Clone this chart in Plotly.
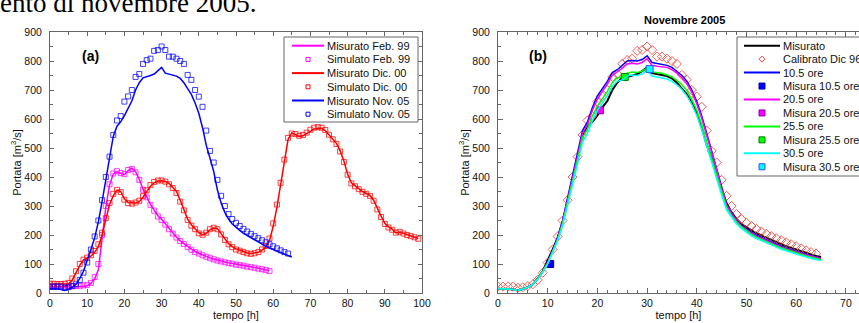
import plotly.graph_objects as go

# ---------------- data ----------------
feb99_meas = [20, 20, 20, 20, 20, 20, 21, 22, 22, 23, 25, 33, 48, 80, 195, 295, 372, 410, 418, 412,
              408, 422, 430, 418, 392, 358, 332, 306, 286, 266, 254, 238, 222, 206, 192, 180, 170, 160, 150, 143,
              137, 131, 126, 121, 117, 113, 110, 107, 104, 102, 99, 97, 95, 92, 90, 88, 85, 83, 80, 77]
feb99_sim = [22, 22, 22, 22, 22, 22, 23, 24, 25, 26, 28, 35, 55, 100, 200, 300, 375, 412, 420, 414,
             410, 424, 428, 416, 390, 356, 330, 304, 284, 264, 252, 236, 220, 205, 191, 179, 169, 159, 149, 141,
             136, 130, 125, 120, 116, 112, 109, 106, 103, 101, 98, 96, 94, 91, 89, 87, 84, 82, 79, 76]
dic00_meas = [30, 30, 30, 30, 30, 32, 45, 70, 95, 114, 120, 127, 140, 160, 200, 250, 305, 335, 355, 350,
              325, 312, 310, 310, 315, 330, 350, 368, 380, 386, 387, 385, 378, 365, 350, 320, 290, 255, 235, 222,
              208, 200, 206, 218, 224, 222, 205, 185, 170, 160, 152, 148, 142, 138, 136, 137, 140, 148, 158, 180,
              230, 295, 370, 455, 530, 552, 545, 540, 542, 551, 560, 566, 568, 568, 560, 545, 530, 516, 490, 455,
              410, 380, 370, 360, 350, 344, 337, 320, 290, 265, 240, 228, 220, 207, 210, 206, 200, 197, 193, 188]
dic00_sim = [32, 32, 31, 31, 32, 35, 50, 75, 100, 115, 122, 130, 145, 168, 208, 258, 310, 342, 356, 348,
             322, 310, 308, 312, 318, 334, 354, 372, 383, 388, 388, 384, 375, 362, 345, 315, 285, 252, 232, 220,
             206, 201, 208, 220, 225, 220, 202, 183, 168, 158, 150, 146, 141, 137, 135, 137, 141, 150, 162, 188,
             240, 305, 380, 460, 535, 550, 548, 542, 545, 553, 563, 570, 572, 570, 562, 546, 530, 514, 488, 452,
             408, 378, 368, 358, 349, 342, 335, 318, 288, 262, 238, 226, 218, 208, 211, 205, 200, 196, 192, 187]
nov05_meas = [15, 15, 14, 12, 9, 14, 20, 30, 50, 75, 110, 150, 190, 245, 315, 395, 460, 540, 575, 590,
              612, 640, 662, 700, 725, 742, 745, 750, 755, 765, 778, 758, 755, 752, 748, 740, 725, 705, 685, 655,
              620, 570, 510, 465, 420, 355, 310, 278, 255, 238, 226, 216, 206, 198, 191, 183, 175, 168, 161, 155,
              150, 144, 138, 133, 128, 124]
nov05_sim = [22, 22, 23, 22, 18, 20, 24, 30, 45, 70, 105, 150, 195, 250, 320, 400, 470, 545, 595, 610,
             660, 678, 700, 745, 755, 790, 803, 808, 835, 838, 850, 838, 815, 815, 808, 800, 790, 752, 735, 700,
             677, 642, 560, 490, 450, 390, 335, 300, 272, 255, 242, 231, 221, 212, 204, 196, 189, 182, 175, 168,
             161, 154, 147, 141, 136]
fc_10_5 = [15, 15, 14, 12, 9, 14, 20, 30, 50, 75, 105, 148, 192, 250, 325, 410, 480, 560, 590, 640,
           680, 705, 730, 760, 770, 785, 800, 802, 800, 805, 818, 795, 792, 788, 785, 778, 765, 750, 730, 700,
           660, 610, 550, 490, 430, 365, 305, 275, 250, 233, 220, 209, 199, 191, 183, 175, 168, 161, 154, 148,
           143, 138, 133, 128, 123, 120]
fc_20_5 = [15, 15, 14, 12, 9, 14, 20, 30, 50, 75, 105, 145, 188, 245, 318, 400, 470, 550, 580, 630,
           668, 695, 720, 750, 762, 775, 790, 792, 790, 795, 808, 785, 782, 780, 778, 770, 758, 742, 722, 692,
           652, 602, 545, 485, 425, 360, 303, 273, 249, 231, 218, 206, 196, 188, 180, 172, 165, 158, 152, 146,
           141, 136, 131, 126, 121, 118]
fc_25_5 = [15, 15, 14, 12, 9, 14, 20, 30, 50, 75, 103, 143, 185, 240, 310, 390, 458, 535, 565, 610,
           645, 670, 695, 725, 742, 745, 758, 762, 760, 765, 776, 762, 760, 758, 752, 745, 733, 718, 698, 668,
           630, 580, 520, 462, 405, 345, 293, 266, 244, 227, 213, 202, 192, 184, 176, 169, 162, 155, 149, 143,
           138, 133, 128, 123, 118, 115]
fc_30_5 = [15, 15, 14, 12, 9, 14, 20, 30, 48, 72, 100, 140, 180, 232, 300, 378, 445, 520, 550, 595,
           630, 655, 680, 712, 730, 735, 748, 752, 750, 755, 768, 748, 745, 742, 738, 730, 718, 702, 680, 650,
           612, 562, 505, 450, 395, 338, 286, 260, 238, 222, 208, 197, 188, 180, 172, 165, 158, 151, 145, 139,
           134, 129, 124, 119, 115, 112]
misura_t = [10.5, 20.5, 25.5, 30.5]
misura_v = [100, 630, 745, 772]

x_ticks_a = [0, 10, 20, 30, 40, 50, 60, 70, 80, 90, 100]
x_ticks_b = [0, 10, 20, 30, 40, 50, 60, 70]
y_ticks = [0, 100, 200, 300, 400, 500, 600, 700, 800, 900]

names_a = ["Misurato Feb. 99", "Simulato Feb. 99", "Misurato Dic. 00",
           "Simulato Dic. 00", "Misurato Nov. 05", "Simulato Nov. 05"]
names_b = ["Misurato", "Calibrato Dic 96", "10.5 ore", "Misura 10.5 ore", "20.5 ore",
           "Misura 20.5 ore", "25.5 ore", "Misura 25.5 ore", "30.5 ore", "Misura 30.5 ore"]


def hours(arr):
    return list(range(len(arr)))


# ---------------- geometry ----------------
W, H = 859, 323
ML, MT, MB, MR = 50, 32, 30, 0
PW, PH = W - ML - MR, H - MT - MB
def PX(x): return (x - ML) / PW
def PY(y): return (H - MB - y) / PH

FONT = "Arial, Liberation Sans, sans-serif"
MAG, RED, BLUE = "#FF00FF", "#FF0000", "#0000FF"

fig = go.Figure()

# ---------------- panel (a) ----------------
series_a = [(feb99_meas, feb99_sim, MAG), (dic00_meas, dic00_sim, RED), (nov05_meas, nov05_sim, BLUE)]
k = 0
for meas, sim, col in series_a:
    fig.add_trace(go.Scatter(x=hours(meas), y=meas, mode="lines", name=names_a[k],
                             line=dict(color=col, width=1.5), xaxis="x", yaxis="y", showlegend=False))
    fig.add_trace(go.Scatter(x=hours(sim), y=sim, mode="markers", name=names_a[k + 1],
                             marker=dict(symbol="square-open", size=5, color=col, opacity=0.75,
                                         line=dict(width=1, color=col)),
                             xaxis="x", yaxis="y", showlegend=False))
    k += 2

# ---------------- panel (b) ----------------
fig.add_trace(go.Scatter(x=hours(nov05_meas), y=nov05_meas, mode="lines", name=names_b[0],
                         line=dict(color="black", width=2), xaxis="x2", yaxis="y2", showlegend=False))
fig.add_trace(go.Scatter(x=hours(nov05_sim), y=nov05_sim, mode="markers", name=names_b[1],
                         marker=dict(symbol="diamond-open", size=7, color="#E8453C", opacity=0.85,
                                     line=dict(width=1, color="#E8453C")),
                         xaxis="x2", yaxis="y2", showlegend=False))
fc_list = [fc_10_5, fc_20_5, fc_25_5, fc_30_5]
fc_cols = [BLUE, MAG, "#00FF00", "#00FFFF"]
mk_edges = ["#0000A0", "#8000C0", "#008000", "#3050FF"]
for i, fc in enumerate(fc_list):
    fig.add_trace(go.Scatter(x=hours(fc), y=fc, mode="lines", name=names_b[2 + 2 * i],
                             line=dict(color=fc_cols[i], width=1.5), xaxis="x2", yaxis="y2", showlegend=False))
    fig.add_trace(go.Scatter(x=[misura_t[i]], y=[misura_v[i]], mode="markers", name=names_b[3 + 2 * i],
                             marker=dict(symbol="square", size=7, color=fc_cols[i],
                                         line=dict(width=1, color=mk_edges[i])),
                             xaxis="x2", yaxis="y2", showlegend=False))

# ---------------- axes ----------------
tickfont = dict(family=FONT, size=10.5, color="#111")
titlefont = dict(family=FONT, size=11, color="#111")
axis_common = dict(showgrid=False, zeroline=False, showline=True, linecolor="#666", linewidth=1,
                   ticks="inside", tickcolor="#666", tickfont=tickfont, automargin=False)

fig.update_layout(
    xaxis=dict(axis_common, domain=[0, PX(422)], range=[0, 100], tickvals=x_ticks_a, ticklen=4,
               mirror="allticks", minor=dict(tickmode="linear", tick0=0, dtick=5, ticks="inside", ticklen=3,
                                             tickcolor="#666"),
               title=dict(text="tempo [h]", font=titlefont, standoff=3)),
    yaxis=dict(axis_common, domain=[0, 1], range=[0, 900], tickvals=y_ticks, ticklen=4,
               mirror="allticks", ticklabelstandoff=5,
               minor=dict(tickmode="linear", tick0=0, dtick=50, ticks="inside", ticklen=3, tickcolor="#666"),
               title=dict(text="Portata [m<sup>3</sup>/s]", font=titlefont, standoff=0)),
    xaxis2=dict(axis_common, domain=[PX(498), 1], range=[0, (W - 498) / 4.97], tickvals=x_ticks_b, ticklen=5,
                mirror="allticks", anchor="y2",
                minor=dict(tickmode="linear", tick0=0, dtick=2, ticks="inside", ticklen=3, tickcolor="#666"),
                title=dict(text="tempo [h]", font=titlefont, standoff=3)),
    yaxis2=dict(axis_common, domain=[0, 1], range=[0, 900], tickvals=y_ticks, ticklen=5, anchor="x2",
                mirror=False, ticklabelstandoff=5,
                minor=dict(tickmode="linear", tick0=0, dtick=50, ticks="inside", ticklen=3, tickcolor="#666"),
                title=dict(text="Portata [m<sup>3</sup>/s]", font=titlefont, standoff=0)),
)

# ---------------- annotations ----------------
ann = []
ann.append(dict(text="ento di novembre 2005.", x=PX(258), y=PY(20), xref="paper", yref="paper",
                xanchor="right", yanchor="bottom", showarrow=False,
                font=dict(family="Liberation Serif, Times New Roman, serif", size=27, color="black")))
ann.append(dict(text="<b>(a)</b>", x=PX(90), y=PY(55.5), xref="paper", yref="paper", showarrow=False,
                xanchor="center", yanchor="middle", font=dict(family=FONT, size=14, color="black")))
ann.append(dict(text="<b>(b)</b>", x=PX(538), y=PY(55.5), xref="paper", yref="paper", showarrow=False,
                xanchor="center", yanchor="middle", font=dict(family=FONT, size=14, color="black")))
ann.append(dict(text="<b>Novembre 2005</b>", x=PX(684), y=PY(19.5), xref="paper", yref="paper",
                xanchor="center", yanchor="middle", showarrow=False,
                font=dict(family=FONT, size=11, color="black")))

shapes = []
legfont = dict(family=FONT, size=11, color="#111")


def legend_block(names, styles, box, y0, dy, lx0, lx1, mx, tx):
    shapes.append(dict(type="rect", xref="paper", yref="paper", x0=PX(box[0]), x1=PX(box[1]),
                       y0=PY(box[2]), y1=PY(box[3]), line=dict(color="#666", width=1),
                       fillcolor="white", layer="above"))
    for i, (nm, st) in enumerate(zip(names, styles)):
        yc = y0 + i * dy
        kind, col, edge, sz = st
        if kind == "line":
            shapes.append(dict(type="line", xref="paper", yref="paper", x0=PX(lx0), x1=PX(lx1),
                               y0=PY(yc), y1=PY(yc), line=dict(color=col, width=2), layer="above"))
        elif kind == "osq":
            shapes.append(dict(type="rect", xref="paper", yref="paper", x0=PX(mx - sz), x1=PX(mx + sz),
                               y0=PY(yc - sz), y1=PY(yc + sz), line=dict(color=col, width=1), layer="above"))
        elif kind == "fsq":
            shapes.append(dict(type="rect", xref="paper", yref="paper", x0=PX(mx - sz), x1=PX(mx + sz),
                               y0=PY(yc - sz), y1=PY(yc + sz), fillcolor=col,
                               line=dict(color=edge, width=1), layer="above"))
        elif kind == "dia":
            path = "M {} {} L {} {} L {} {} L {} {} Z".format(PX(mx), PY(yc - sz), PX(mx + sz), PY(yc),
                                                            PX(mx), PY(yc + sz), PX(mx - sz), PY(yc))
            shapes.append(dict(type="path", xref="paper", yref="paper", path=path,
                               line=dict(color=col, width=1), layer="above"))
        ann.append(dict(text=nm, x=PX(tx), y=PY(yc), xref="paper", yref="paper", xanchor="left",
                        yanchor="middle", showarrow=False, font=legfont, borderpad=0))


styles_a = [("line", MAG, None, 0), ("osq", MAG, None, 2), ("line", RED, None, 0),
            ("osq", RED, None, 2), ("line", BLUE, None, 0), ("osq", BLUE, None, 2)]
legend_block(names_a, styles_a, (284, 418, 37, 122), 45.7, 13.7, 292, 324, 308, 326)

styles_b = [("line", "black", None, 0), ("dia", "#E8453C", None, 3)]
for i in range(4):
    styles_b.append(("line", fc_cols[i], None, 0))
    styles_b.append(("fsq", fc_cols[i], mk_edges[i], 3))
legend_block(names_b, styles_b, (737, 905, 37, 176), 45.7, 13.45, 744, 780, 762, 781.5)

fig.update_layout(
    width=W, height=H, margin=dict(l=ML, r=MR, t=MT, b=MB, autoexpand=False),
    paper_bgcolor="white", plot_bgcolor="white", showlegend=False,
    annotations=ann, shapes=shapes, font=dict(family=FONT),
)

fig.write_html("out.html", config={"displayModeBar": False},
               post_script="document.body.style.margin='0';document.body.style.overflow='hidden';")
